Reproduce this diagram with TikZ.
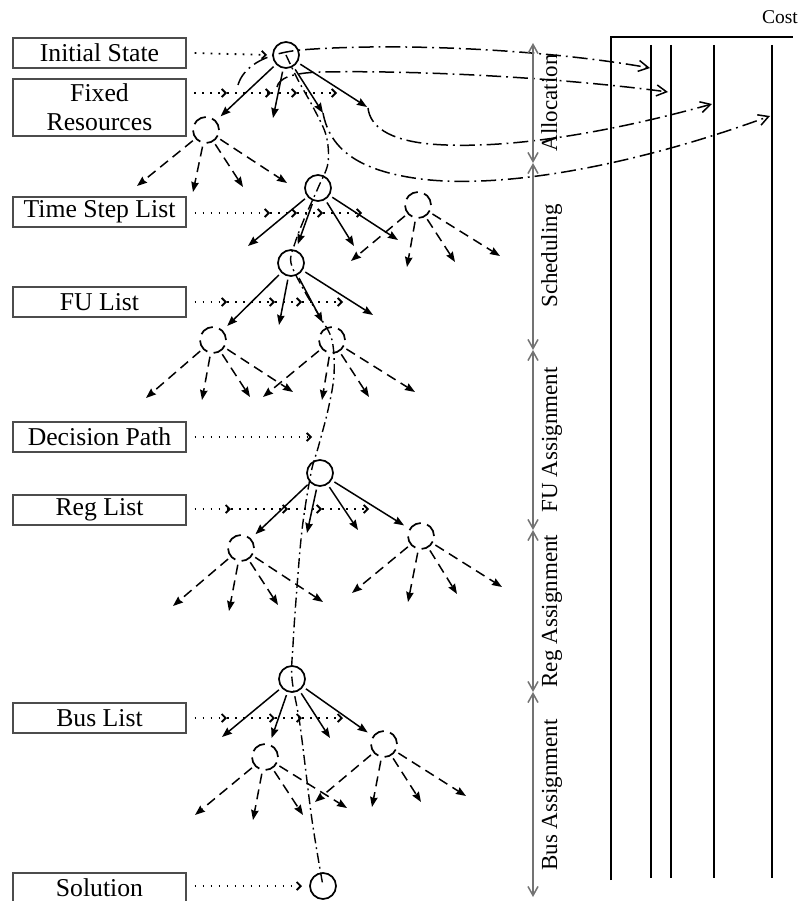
\documentclass[tikz,border=0pt]{standalone}
\usepackage{fontspec}
\setmainfont{Liberation Serif}
\usetikzlibrary{arrows.meta}
\begin{document}
\begin{tikzpicture}[x=1pt,y=-1pt,
  lbl/.style={draw=black!70, line width=1.2pt, minimum width=173pt, minimum height=30pt, inner sep=0pt, font=\fontsize{25.7}{29}\selectfont, align=center},
  tn/.style={circle, draw, line width=1.7pt, minimum size=26pt, inner sep=0pt, outer sep=4pt},
  tnd/.style={tn, dash pattern=on 14pt off 6.5pt},
  sarr/.style={line width=1.5pt, -{Stealth[length=10pt,width=7.5pt,inset=1pt]}},
  darr/.style={sarr, dash pattern=on 10pt off 6pt},
  dotarr/.style={line width=1.8pt, dash pattern=on 1.8pt off 6.2pt, -{Straight Barb[length=4pt,width=8pt]}},
  costarr/.style={line width=1.5pt, dash pattern=on 15pt off 5pt on 1.8pt off 5pt, -{Straight Barb[length=10pt,width=11pt]}},
  decpath/.style={line width=1.4pt, dash pattern=on 10pt off 4pt on 1.8pt off 4pt},
  axseg/.style={draw=black!55, line width=1.5pt, {Straight Barb[length=9pt,width=10pt]}-{Straight Barb[length=9pt,width=10pt]}},
  axlbl/.style={rotate=90, anchor=base, font=\fontsize{23}{27}\selectfont},
  costln/.style={line width=2pt}
]
\useasboundingbox (0,0) rectangle (803,901);
\clip (0,0) rectangle (803,901);

% ---------- label boxes ----------
\node[lbl] (ib) at (99.5,53) {Initial State};
\node[lbl, minimum height=57pt] (fr) at (99.5,107.5) {Fixed\\Resources};
\node[lbl] (ts) at (99.5,212) {Time Step List};
\node[lbl] (fu) at (99.5,302) {FU List};
\node[lbl] (dp) at (99.5,437) {Decision Path};
\node[lbl] (rl) at (99.5,510) {Reg List};
\node[lbl] (bl) at (99.5,718) {Bus List};
\node[lbl] (so) at (99.5,888) {Solution};

% ---------- tree nodes ----------
\node[tn]  (r0) at (286,55) {};
\node[tnd] (c1) at (206,130) {};
\node[tn]  (s1) at (318,188) {};
\node[tnd] (d1) at (418,205) {};
\node[tn]  (s2) at (291,263) {};
\node[tnd] (e1) at (213,340) {};
\node[tnd] (e2) at (332,340) {};
\node[tn]  (f0) at (320,473) {};
\node[tnd] (h1) at (241,548) {};
\node[tnd] (h2) at (421,536) {};
\node[tn]  (g0) at (292,679) {};
\node[tnd] (i1) at (265,757) {};
\node[tnd] (i2) at (384,744) {};
\node[tn]  (j0) at (323,886) {};

% ---------- free ends ----------
\coordinate (r0b) at (273,118); \coordinate (r0c) at (323,113); \coordinate (r0d) at (367,107);
\coordinate (c1a) at (137,186); \coordinate (c1b) at (193,192); \coordinate (c1c) at (243,187); \coordinate (c1d) at (287,183);
\coordinate (s1a) at (248,246); \coordinate (s1c) at (354,246); \coordinate (s1d) at (398,240);
\coordinate (d1a) at (351,261); \coordinate (d1b) at (407,267); \coordinate (d1c) at (455,262); \coordinate (d1d) at (500,256);
\coordinate (s2b) at (279,325); \coordinate (s2d) at (373,315);
\coordinate (e1a) at (146,398); \coordinate (e1b) at (202,400); \coordinate (e1c) at (250,397); \coordinate (e1d) at (293,392);
\coordinate (e2a) at (263,397); \coordinate (e2b) at (322,400); \coordinate (e2c) at (369,397); \coordinate (e2d) at (415,392);
\coordinate (f0b) at (307,533); \coordinate (f0c) at (358,530);
\coordinate (h1a) at (173,606); \coordinate (h1b) at (229,611); \coordinate (h1c) at (278,605); \coordinate (h1d) at (323,602);
\coordinate (h2a) at (352,593); \coordinate (h2b) at (408,602); \coordinate (h2c) at (457,594); \coordinate (h2d) at (502,587);
\coordinate (g0a) at (222,737); \coordinate (g0c) at (330,738);
\coordinate (i1a) at (195,815); \coordinate (i1b) at (253,820); \coordinate (i1c) at (303,815); \coordinate (i1d) at (347,808);
\coordinate (i2a) at (315,802); \coordinate (i2b) at (372,807); \coordinate (i2c) at (421,802); \coordinate (i2d) at (466,796);

% ---------- solid tree edges ----------
\draw[sarr, shorten >=3pt] (r0) -- (c1);
\foreach \t in {r0b,r0c,r0d} \draw[sarr] (r0) -- (\t);
\draw[sarr, shorten >=3pt] (s1) -- (s2);
\foreach \t in {s1a,s1c,s1d} \draw[sarr] (s1) -- (\t);
\draw[sarr, shorten >=3pt] (s2) -- (e1);
\draw[sarr, shorten >=3pt] (s2) -- (e2);
\foreach \t in {s2b,s2d} \draw[sarr] (s2) -- (\t);
\draw[sarr, shorten >=3pt] (f0) -- (h1);
\draw[sarr, shorten >=3pt] (f0) -- (h2);
\foreach \t in {f0b,f0c} \draw[sarr] (f0) -- (\t);
\draw[sarr, shorten >=3pt] (g0) -- (i1);
\draw[sarr, shorten >=3pt] (g0) -- (i2);
\foreach \t in {g0a,g0c} \draw[sarr] (g0) -- (\t);

% ---------- dashed tree edges ----------
\foreach \n in {c1,d1,e1,e2,h1,h2,i1,i2}
  \foreach \k in {a,b,c,d} \draw[darr] (\n) -- (\n\k);

% ---------- dotted rows ----------
\draw[dotarr] ([xshift=8pt]ib.east) -- ([xshift=-2pt]r0.west);
\coordinate (frs) at (194,93);
\coordinate (fr1) at (227,93); \coordinate (fr2) at (271,93); \coordinate (fr3) at (297,93); \coordinate (fr4) at (337,93);
\draw[dotarr] (frs) -- (fr1); \draw[dotarr] (fr1) -- (fr2); \draw[dotarr] (fr2) -- (fr3); \draw[dotarr] (fr3) -- (fr4);
\coordinate (ts1) at (270,213); \coordinate (ts2) at (297,213); \coordinate (ts3) at (323,213); \coordinate (ts4) at (362,213);
\draw[dotarr] ([xshift=8pt]ts.east |- ts1) -- (ts1); \draw[dotarr] (ts1) -- (ts2); \draw[dotarr] (ts2) -- (ts3); \draw[dotarr] (ts3) -- (ts4);
\coordinate (fu1) at (227,302); \coordinate (fu2) at (275,302); \coordinate (fu3) at (302,302); \coordinate (fu4) at (343,302);
\draw[dotarr] ([xshift=8pt]fu.east) -- (fu1); \draw[dotarr] (fu1) -- (fu2); \draw[dotarr] (fu2) -- (fu3); \draw[dotarr] (fu3) -- (fu4);
\coordinate (dp1) at (312,437);
\draw[dotarr] ([xshift=8pt]dp.east) -- (dp1);
\coordinate (rl1) at (231,509); \coordinate (rl2) at (288,509); \coordinate (rl3) at (322,509); \coordinate (rl4) at (369,509);
\draw[dotarr] ([xshift=8pt]rl.east |- rl1) -- (rl1); \draw[dotarr] (rl1) -- (rl2); \draw[dotarr] (rl2) -- (rl3); \draw[dotarr] (rl3) -- (rl4);
\coordinate (bl1) at (227,718); \coordinate (bl2) at (275,718); \coordinate (bl3) at (302,718); \coordinate (bl4) at (343,718);
\draw[dotarr] ([xshift=8pt]bl.east) -- (bl1); \draw[dotarr] (bl1) -- (bl2); \draw[dotarr] (bl2) -- (bl3); \draw[dotarr] (bl3) -- (bl4);
\draw[dotarr] ([xshift=8pt]so.east |- j0) -- ([xshift=-4pt]j0.west);

% ---------- decision path ----------
\draw[decpath] plot[smooth, tension=0.55] coordinates {(r0.center) (298,80) (313,107) (326,135) (328,163) (s1.center) (305,217) (295,243) (s2.center) (305,292) (320,317) (e2.center) (334,375) (328,410) (318,448) (311,473) (302,530) (296,600) (293,645) (g0.center) (300,725) (312,820) (j0.center)};

% ---------- cost chart ----------
\coordinate (cfb) at (611,880); \coordinate (cft) at (611,37); \coordinate (cfr) at (793,37);
\draw[line width=2.2pt] (cfb) -- (cft) -- (cfr);
\coordinate (l1t) at (651,45); \coordinate (l1b) at (651,878);
\coordinate (l2t) at (671,45); \coordinate (l2b) at (671,878);
\coordinate (l3t) at (714,45); \coordinate (l3b) at (714,878);
\coordinate (l4t) at (772,45); \coordinate (l4b) at (772,878);
\draw[costln] (l1t) -- (l1b);
\draw[costln] (l2t) -- (l2b);
\draw[costln] (l3t) -- (l3b);
\draw[costln] (l4t) -- (l4b);
\node[font=\fontsize{19.5}{22}\selectfont] (cost) at (780,17) {Cost};

% ---------- cost mapping curves ----------
\coordinate (q1) at (238,85);  \coordinate (k1) at (650,68);
\coordinate (q2) at (277,87);  \coordinate (k2) at (668,92);
\coordinate (q3) at (368,108); \coordinate (k3) at (712,104);
\coordinate (q4) at (323,113); \coordinate (k4) at (770,116);
\draw[costarr] (q1) .. controls (243,68) and (262,54) .. (300,50) .. controls (400,42) and (550,50) .. (k1);
\draw[costarr] (q2) .. controls (279,78) and (292,73) .. (320,72) .. controls (430,70) and (570,79) .. (k2);
\draw[costarr] (q3) .. controls (370,126) and (388,140) .. (430,144) .. controls (500,150) and (600,135) .. (k3);
\draw[costarr] (q4) .. controls (330,150) and (360,173) .. (430,180) .. controls (520,188) and (650,160) .. (k4);

% ---------- phase axis ----------
\coordinate (ax0) at (533,43); \coordinate (ax1) at (533,163); \coordinate (ax2) at (533,350);
\coordinate (ax3) at (533,530); \coordinate (ax4) at (533,692); \coordinate (ax5) at (533,897);
\draw[axseg] (ax0) -- (ax1);
\draw[axseg] (ax1) -- (ax2);
\draw[axseg] (ax2) -- (ax3);
\draw[axseg] (ax3) -- (ax4);
\draw[axseg] (ax4) -- (ax5);
\node[axlbl] (la) at (557,103) {Allocation};
\node[axlbl] (lsch) at (557,256) {Scheduling};
\node[axlbl] (lfu) at (557,440) {FU Assignment};
\node[axlbl] (lreg) at (557,611) {Reg Assignment};
\node[axlbl] (lbus) at (557,795) {Bus Assignment};
\end{tikzpicture}
\end{document}
